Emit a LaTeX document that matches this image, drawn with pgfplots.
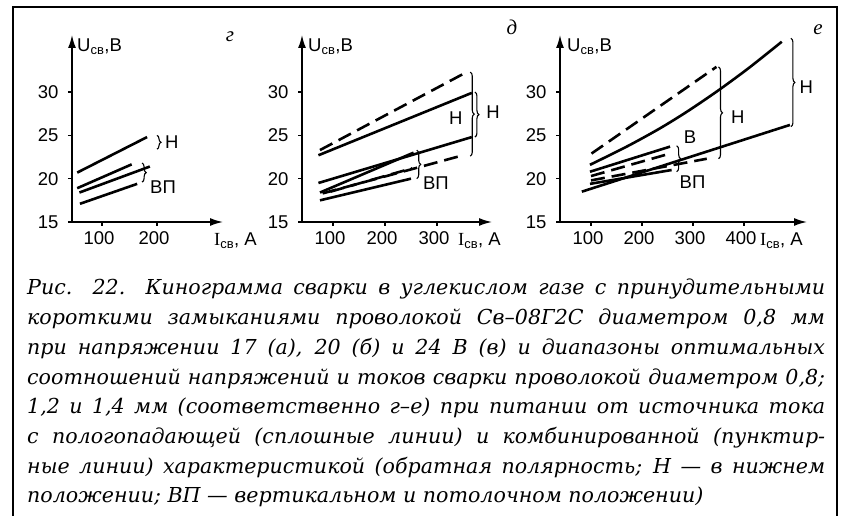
\documentclass[border=0pt]{standalone}
\usepackage{fontspec}
\setmainfont{Liberation Serif}
\setsansfont{Liberation Sans}
\newfontfamily\capfam{DejaVu Serif}
\usepackage{pgfplots}
\pgfplotsset{compat=1.18}
\usetikzlibrary{arrows.meta,decorations.pathreplacing}

\newcommand{\lab}{\sffamily\fontsize{18.5}{18.5}\selectfont}
\newcommand{\capf}{\capfam\itshape\fontsize{20.6}{30}\selectfont}

\pgfplotsset{
  panel/.style={
    scale only axis, height=187pt, ymin=15, ymax=36.58,
    axis lines=left,
    axis line style={line width=1.6pt, -{Latex[length=13pt,width=8pt]}},
    ytick={15,20,25,30}, tick align=outside, major tick length=4pt,
    tick style={line width=1.2pt, black},
    ticklabel style={font=\lab},
    xticklabel style={xshift=-3pt, yshift=-2pt},
    yticklabel style={xshift=-6pt},
    /pgf/number format/assume math mode=true,
    clip=false, anchor=south west,
  },
}
\tikzset{
  sol/.style={black, line width=2.6pt},
  das/.style={black, line width=2.6pt, dash pattern=on 14pt off 7pt},
  br/.style={decorate, decoration={brace, amplitude=4pt}, line width=1.1pt},
}

\begin{document}
\begin{tikzpicture}[x=1pt,y=1pt]
\useasboundingbox (0,0) rectangle (844,516);
\draw[line width=1.5pt] (13,-2) -- (13,509) -- (837,509) -- (837,-2);

% panel g
\begin{axis}[panel, at={(72pt,294pt)}, width=151pt, xmin=45.5, xmax=320, xtick={100,200}]
  \addplot[sol] coordinates {(55,20.7) (182,24.8)};
  \addplot[sol] coordinates {(55,18.9) (154,21.65)};
  \addplot[sol] coordinates {(59,18.4) (187,21.4)};
  \addplot[sol] coordinates {(60,17.1) (164,19.4)};
  \draw[br] (axis cs:200,25.0) -- (axis cs:200,23.4);
  \node[font=\lab] at (axis cs:227,24.2) {Н};
  \draw[br] (axis cs:173,21.8) -- (axis cs:173,19.6);
  \node[font=\lab] at (axis cs:211,19.0) {ВП};
\end{axis}

% panel d
\begin{axis}[panel, at={(302pt,294pt)}, width=190pt, xmin=40.4, xmax=405.8, xtick={100,200,300}]
  \addplot[sol] coordinates {(72,22.7) (367,29.9)};
  \addplot[sol] coordinates {(72,19.5) (367,24.8)};
  \addplot[sol] coordinates {(75,18.4) (255,23.0)};
  \addplot[sol] coordinates {(75,17.5) (250,20.0)};
  \addplot[das] coordinates {(75,23.3) (354,32.2)};
  \addplot[das] coordinates {(80,18.3) (350,22.7)};
  \addplot[das] coordinates {(95,18.5) (252,21.2)};
  \draw[br] (axis cs:364,32.3) -- (axis cs:364,22.6);
  \draw[br] (axis cs:373,30.0) -- (axis cs:373,24.8);
  \node[font=\lab] at (axis cs:336,27.0) {Н};
  \node[font=\lab] at (axis cs:408,27.7) {Н};
  \draw[br] (axis cs:261,23.3) -- (axis cs:261,20.0);
  \node[font=\lab] at (axis cs:298,19.5) {ВП};
\end{axis}

% panel e
\begin{axis}[panel, at={(560pt,294pt)}, width=247pt, xmin=39.2, xmax=523.5, xtick={100,200,300,400}]
  \addplot[sol, smooth] coordinates {(98,21.6) (170,23.7) (235,25.8) (290,27.8) (350,30.2) (410,32.8) (474,35.8)};
  \addplot[sol] coordinates {(82,18.5) (490,26.2)};
  \addplot[sol] coordinates {(98,20.8) (255,23.7)};
  \addplot[sol] coordinates {(98,19.4) (258,21.0)};
  \addplot[das] coordinates {(101,22.9) (346,32.9)};
  \addplot[das] coordinates {(100,20.3) (255,22.9)};
  \addplot[das] coordinates {(100,19.8) (327,22.3)};
  \draw[br] (axis cs:268,23.8) -- (axis cs:268,20.8);
  \node[font=\lab] at (axis cs:294,24.8) {В};
  \node[font=\lab] at (axis cs:299,19.6) {ВП};
  \draw[br] (axis cs:350,32.9) -- (axis cs:350,22.3);
  \node[font=\lab] at (axis cs:388,27.1) {Н};
  \draw[br] (axis cs:492,36.2) -- (axis cs:492,26.0);
  \node[font=\lab] at (axis cs:522,30.6) {Н};
\end{axis}

% axis titles
\foreach \x in {77,308,567} \node[font=\lab, anchor=west, inner sep=0] at (\x,469) {U\textsubscript{св},В};
\foreach \x in {214,458,760} \node[font=\lab, anchor=west, inner sep=0] at (\x,275) {{\rmfamily I}\textsubscript{св}, А};
\node[font=\itshape\fontsize{21}{21}\selectfont] at (230,479) {г};
\node[font=\itshape\fontsize{21}{21}\selectfont] at (512,489) {д};
\node[font=\itshape\fontsize{21}{21}\selectfont] at (818,486) {е};

% caption
\begin{scope}[every node/.style={anchor=base west, inner sep=0, font=\capf}]
\node at (27,221.0) {\makebox[798pt][s]{Рис. 22. Кинограмма сварки в углекислом газе с принудительными}};
\node at (27,191.3) {\makebox[798pt][s]{короткими замыканиями проволокой Св–08Г2С диаметром 0,8 мм}};
\node at (27,161.6) {\makebox[798pt][s]{при напряжении 17 (а), 20 (б) и 24 В (в) и диапазоны оптимальных}};
\node at (27,131.9) {\makebox[798pt][s]{соотношений напряжений и токов сварки проволокой диаметром 0,8;}};
\node at (27,102.2) {\makebox[798pt][s]{1,2 и 1,4 мм (соответственно г–е) при питании от источника тока}};
\node at (27,72.5) {\makebox[798pt][s]{с пологопадающей (сплошные линии) и комбинированной (пунктир-}};
\node at (27,42.8) {\makebox[798pt][s]{ные линии) характеристикой (обратная полярность; Н — в нижнем}};
\node at (27,13.1) {положении; ВП — вертикальном и потолочном положении)};
\end{scope}
\end{tikzpicture}
\end{document}
